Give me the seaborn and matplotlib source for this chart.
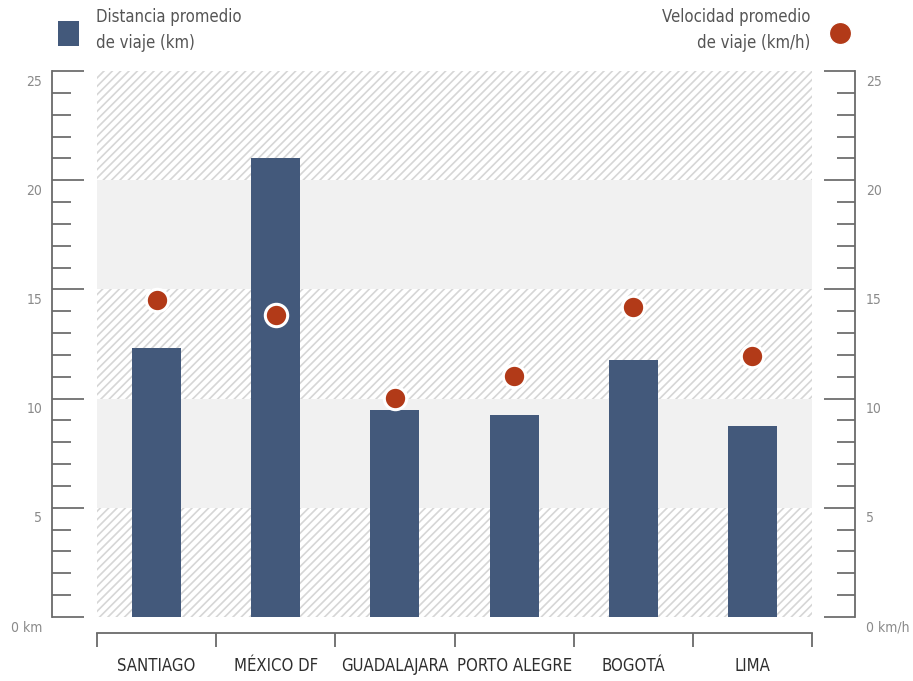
import matplotlib
matplotlib.use("Agg")
import matplotlib.pyplot as plt
import matplotlib.transforms as mtrans
from matplotlib.patches import Rectangle
from matplotlib.lines import Line2D
from matplotlib.ticker import MultipleLocator, FixedLocator
import numpy as np
import pandas as pd
import seaborn as sns

cities = ["SANTIAGO", "MÉXICO DF", "GUADALAJARA", "PORTO ALEGRE", "BOGOTÁ", "LIMA"]
distance_km = [12.3, 21.0, 9.5, 9.25, 11.75, 8.75]
speed_kmh = [14.5, 13.85, 10.05, 11.05, 14.2, 11.95]
y_ticks = [0, 5, 10, 15, 20, 25]
left_labels = ["0 km", "5", "10", "15", "20", "25"]
right_labels = ["0 km/h", "5", "10", "15", "20", "25"]

sns.set_theme(style="white")
plt.rcParams["font.family"] = ["DejaVu Sans"]
plt.rcParams["font.stretch"] = "condensed"
plt.rcParams["hatch.linewidth"] = 1.2
plt.rcParams["hatch.color"] = "#d6d6d6"

BAR = "#43597b"
DOT = "#b23a18"
W, H = 913, 681
PX = 0.72  # points per pixel

fig = plt.figure(figsize=(W / 100, H / 100), dpi=100)
ax = fig.add_axes([97 / W, 64 / H, 715 / W, 546 / H])

df = pd.DataFrame({"city": cities, "dist": distance_km, "speed": speed_kmh})

# background bands
for lo in range(0, 25, 5):
    if (lo // 5) % 2 == 0:
        ax.axhspan(lo, lo + 5, facecolor="white", edgecolor="#d6d6d6", hatch="////", linewidth=0, zorder=0)
    else:
        ax.axhspan(lo, lo + 5, facecolor="#f1f1f1", edgecolor="none", linewidth=0, zorder=0)

sns.barplot(data=df, x="city", y="dist", color=BAR, saturation=1, width=0.41, ax=ax, zorder=2,
            edgecolor="none", linewidth=0)

ax.set_xlim(-0.5, 5.5)
ax.set_ylim(0, 25)
ax.set_xlabel("")
ax.set_ylabel("")

ax2 = ax.twinx()
sns.scatterplot(data=df, x="city", y="speed", color=DOT, s=260, edgecolor="white", linewidth=2.2,
                ax=ax2, zorder=5, legend=False)
ax2.set_ylim(0, 25)
ax2.set_xlim(-0.5, 5.5)
ax2.set_ylabel("")
ax2.set_xlabel("")

# spines
for s in ["top", "right"]:
    ax.spines[s].set_visible(False)
for s in ["top", "left", "bottom"]:
    ax2.spines[s].set_visible(False)

spc = "#6a6a6a"
ax.spines["left"].set_position(("outward", 45 * PX))
ax.spines["left"].set_color(spc)
ax.spines["left"].set_linewidth(1.3)
ax.spines["bottom"].set_position(("outward", 16 * PX))
ax.spines["bottom"].set_color(spc)
ax.spines["bottom"].set_linewidth(1.3)
ax2.spines["right"].set_visible(True)
ax2.spines["right"].set_position(("outward", 43 * PX))
ax2.spines["right"].set_color(spc)
ax2.spines["right"].set_linewidth(1.3)

# y ticks
ax.yaxis.set_major_locator(FixedLocator(y_ticks))
ax.yaxis.set_minor_locator(MultipleLocator(1))
ax.set_yticklabels(left_labels)
ax.tick_params(axis="y", which="major", direction="in", length=32 * PX, width=1.1, color="#555555",
               labelsize=10, labelcolor="#8a8a8a", pad=7, left=True)
ax.tick_params(axis="y", which="minor", direction="in", length=19 * PX, width=1.1, color="#555555", left=True)

ax2.yaxis.set_major_locator(FixedLocator(y_ticks))
ax2.yaxis.set_minor_locator(MultipleLocator(1))
ax2.set_yticklabels(right_labels)
ax2.tick_params(axis="y", which="major", direction="in", length=31 * PX, width=1.1, color="#555555",
                labelsize=10, labelcolor="#8a8a8a", pad=8, right=True)
ax2.tick_params(axis="y", which="minor", direction="in", length=18 * PX, width=1.1, color="#555555", right=True)

off = mtrans.ScaledTranslation(0, -9 / 100, fig.dpi_scale_trans)
for lab in ax.get_yticklabels() + ax2.get_yticklabels():
    lab.set_transform(lab.get_transform() + off)

# x ticks
ax.set_xticks(range(len(cities)))
ax.set_xticklabels(cities)
ax.xaxis.set_minor_locator(FixedLocator(np.arange(-0.5, 6, 1)))
ax.tick_params(axis="x", which="major", length=0, labelsize=12, labelcolor="#2e2e2e", pad=17, bottom=True)
ax.tick_params(axis="x", which="minor", direction="out", length=14 * PX, width=1.3, color=spc, bottom=True)
ax2.tick_params(axis="x", which="both", bottom=False, labelbottom=False, top=False, labeltop=False)

ax.grid(False)
ax2.grid(False)

# legend
fig.add_artist(Rectangle((58 / W, 1 - 46 / H), 21 / W, 25 / H, transform=fig.transFigure,
                         facecolor=BAR, edgecolor="none"))
fig.text(96 / W, 1 - 8 / H, "Distancia promedio\nde viaje (km)", ha="left", va="top",
         fontsize=12, color="#555555", linespacing=1.6)
fig.text(810 / W, 1 - 8 / H, "Velocidad promedio\nde viaje (km/h)", ha="right", va="top",
         fontsize=12, color="#555555", linespacing=1.6, multialignment="right")
fig.add_artist(Line2D([840 / W], [1 - 33 / H], marker="o", markersize=16, color=DOT,
                      markeredgecolor="white", transform=fig.transFigure))

fig.savefig("out.png", dpi=100, facecolor="white")
